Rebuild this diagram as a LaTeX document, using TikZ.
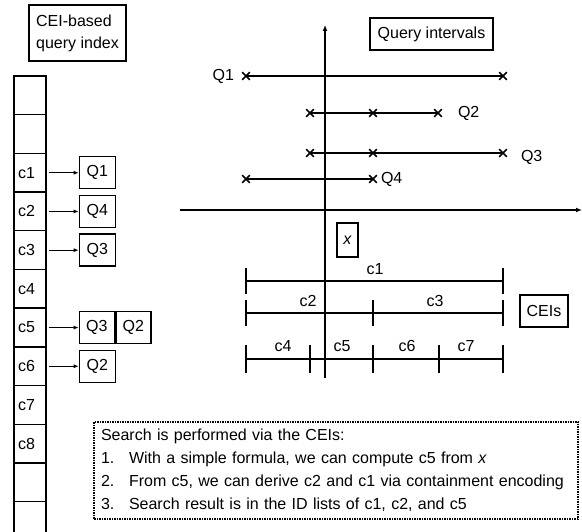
\documentclass[tikz,border=0pt]{standalone}
\usepackage{fontspec}
\setmainfont{Liberation Sans}
\usetikzlibrary{positioning,arrows.meta,shapes.misc}
\tikzset{
  lbox/.style={draw,line width=1.4pt,inner sep=0pt,minimum width=36pt,minimum height=32pt},
  cell/.style={draw,line width=1.4pt,minimum width=32pt,minimum height=38.7pt,inner sep=4pt,text width=24pt,align=left},
  qmark/.style={cross out,draw,line width=1.6pt,minimum size=6pt,inner sep=0pt},
  qline/.style={line width=2.8pt},
  axis/.style={line width=2.8pt,-{Latex[length=6pt,width=5pt]}},
  link/.style={line width=1pt,shorten <=2pt,-{Latex[length=5pt,width=4pt]}},
  tickmark/.style={line width=2.6pt},
  lab/.style={inner sep=1pt},
  every picture/.style={x=1pt,y=-1pt,font=\fontsize{16}{22}\selectfont}
}

\begin{document}
\begin{tikzpicture}
  \clip (0,0) rectangle (582,532);
  \fill[white] (0,0) rectangle (582,532);
  % index column
  \node[draw,line width=1.4pt,align=left,inner sep=6pt,minimum width=97pt,minimum height=56pt] (title) at (77.5,33) {CEI-based\\query index};
  \foreach \lab [count=\i] in {{},{},c1,c2,c3,c4,c5,c6,c7,c8,{},{}}
    \node[cell] (idx\i) at (30,{76+38.7*(\i-0.5)}) {\lab};
  \node[lbox,right=32pt of idx3] (q1) {Q1}; \draw[link] (idx3) -- (q1);
  \node[lbox,right=32pt of idx4] (q4) {Q4}; \draw[link] (idx4) -- (q4);
  \node[lbox,right=32pt of idx5] (q3) {Q3}; \draw[link] (idx5) -- (q3);
  \node[lbox,minimum width=35pt,right=32pt of idx7] (q3b) {Q3}; \node[lbox,minimum width=35pt,right=0pt of q3b] (q2b) {Q2};
  \draw[link] (idx7) -- (q3b);
  \node[lbox,right=32pt of idx8] (q2) {Q2}; \draw[link] (idx8) -- (q2);

  % axes
  \coordinate (xl) at (180,210); \coordinate (xr) at (582,210);
  \coordinate (yb) at (325,378); \coordinate (yt) at (325,25);
  \draw[axis] (xl) -- (xr); \draw[axis] (yb) -- (yt);

  % query intervals
  \node[lbox,minimum width=123pt] (qi) at (431.5,34) {Query intervals};
  \foreach \nm/\x/\y in {m11/246/76,m12/503/76,m21/310/113,m22/373/113,m23/438/113,
                         m31/310/153,m32/373/153,m33/503/153,m41/246/179,m42/373/179}
    \node[qmark] (\nm) at (\x,\y) {};
  \draw[qline] (m11.center) -- (m12.center); \draw[qline] (m21.center) -- (m23.center);
  \draw[qline] (m31.center) -- (m33.center); \draw[qline] (m41.center) -- (m42.center);
  \node[lab,left=7pt of m11] (l1) {Q1}; \node[lab,right=15pt of m23] (l2) {Q2};
  \node[lab,right=13pt of m33,yshift=-4pt] (l3) {Q3}; \node[lab,right=3pt of m42] (l4) {Q4};

  \node[draw,line width=1.4pt,minimum width=21pt,minimum height=34pt,inner sep=0pt] (xq) at (347.5,240) {\textit{x}};

  % CEIs
  \draw[qline] (246,281) -- (503,281);
  \draw[qline] (246,313) -- (503,313);
  \draw[qline] (246,359) -- (503,359);
  \foreach \x in {246,503} \draw[tickmark] (\x,268) -- (\x,294);
  \foreach \x in {246,373,503} \draw[tickmark] (\x,300) -- (\x,326);
  \foreach \x in {246,310,373,439,503} \draw[tickmark] (\x,345) -- (\x,373);
  \node[lab] (c1) at (375,269) {c1};
  \node[lab] (c2) at (308,301) {c2}; \node[lab] (c3) at (435,301) {c3};
  \node[lab] (c4) at (283,346) {c4}; \node[lab] (c5) at (342,346) {c5};
  \node[lab] (c6) at (407,346) {c6}; \node[lab] (c7) at (466,346) {c7};
  \node[lbox,minimum width=48pt] (cei) at (544,311) {CEIs};

  % search steps
  \node[draw,line width=1.2pt,dash pattern=on 1.5pt off 1pt,minimum width=484pt,minimum height=97pt,
        text width=470pt,inner sep=7pt,align=left,font=\fontsize{16}{23}\selectfont] (note) at (336,470.5)
    {Search is performed via the CEIs:\\
     \makebox[28pt][l]{1.}With a simple formula, we can compute c5 from \textit{x}\\
     \makebox[28pt][l]{2.}From c5, we can derive c2 and c1 via containment encoding\\
     \makebox[28pt][l]{3.}Search result is in the ID lists of c1, c2, and c5};
\end{tikzpicture}
\end{document}
